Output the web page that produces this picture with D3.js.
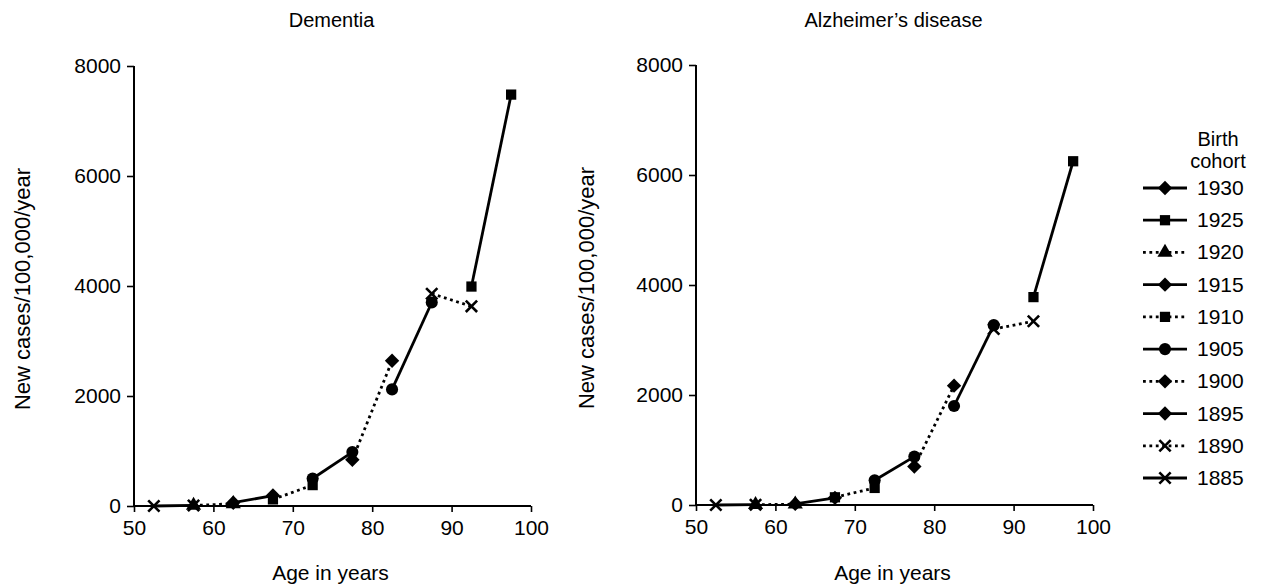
<!DOCTYPE html>
<html>
<head>
<meta charset="utf-8">
<script src="https://cdn.jsdelivr.net/npm/d3@7"></script>
<style>
    body { margin: 0; background: #fff; }
    svg { font-family: "Liberation Sans", Arial, sans-serif; }
</style>
</head>
<body>
<svg id="chart" width="1261" height="585"></svg>
<script>
// legend order, as printed
const cohorts = ['1930', '1925', '1920', '1915', '1910', '1905', '1900', '1895', '1890', '1885']

// each plotted segment: one cohort followed over two 5-year age bands
const segmentCohorts = ['1925', '1920', '1915', '1910', '1905', '1900', '1895', '1890', '1885']
const segmentAges = [
    [52.5, 57.5], [57.5, 62.5], [62.5, 67.5], [67.5, 72.5], [72.5, 77.5],
    [77.5, 82.5], [82.5, 87.5], [87.5, 92.5], [92.5, 97.5]
]
const dementiaValues = [
    [0, 10], [10, 40], [60, 190], [120, 380], [500, 980],
    [840, 2640], [2120, 3700], [3860, 3630], [3990, 7480]
]
const alzheimerValues = [
    [0, 5], [5, 15], [20, 130], [140, 310], [450, 880],
    [700, 2170], [1800, 3270], [3200, 3340], [3780, 6250]
]

const xTicks = [50, 60, 70, 80, 90, 100]
const yTicks = [0, 2000, 4000, 6000, 8000]
const panelTitles = ['Dementia', "Alzheimer\u2019s disease"]

// ---- styles ----
const STROKE = '#000'
const LINE_W = 2.8
const DOTS = '2.8,3.6'
const FONT = 21

const legendStyle = {
    '1930': { dotted: false, sym: 'diamond' },
    '1925': { dotted: false, sym: 'square' },
    '1920': { dotted: true, sym: 'triangle' },
    '1915': { dotted: false, sym: 'diamond' },
    '1910': { dotted: true, sym: 'square' },
    '1905': { dotted: false, sym: 'circle' },
    '1900': { dotted: true, sym: 'diamond' },
    '1895': { dotted: false, sym: 'diamond' },
    '1890': { dotted: true, sym: 'cross' },
    '1885': { dotted: false, sym: 'cross' }
}
// markers as they come out in the plotted panels
const plotSymbol = {
    '1925': 'cross', '1920': 'triangle', '1915': 'diamond', '1910': 'square',
    '1905': 'circle', '1900': 'diamond', '1895': 'circle', '1890': 'cross', '1885': 'square'
}

// square turned on its corner, like the printed diamonds
const diamondPath = r => {
    const p = d3.path()
    p.moveTo(0, -r)
    p.lineTo(r, 0)
    p.lineTo(0, r)
    p.lineTo(-r, 0)
    p.closePath()
    return p.toString()
}

const symbolPath = {
    diamond: diamondPath(7.2),
    square: d3.symbol(d3.symbolSquare, 105)(),
    circle: d3.symbol(d3.symbolCircle, 115)(),
    triangle: d3.symbol(d3.symbolTriangle, 100)(),
    cross: d3.symbol(d3.symbolTimes, 85)()
}

const drawSymbol = (g, name, x, y) => {
    const p = g.append('path')
        .attr('d', symbolPath[name])
        .attr('transform', `translate(${x},${y})`)
    if (name === 'cross') {
        p.attr('fill', 'none').attr('stroke', STROKE).attr('stroke-width', 2.6)
    } else {
        p.attr('fill', STROKE)
    }
}

const svg = d3.select('#chart')

const W = 397
const H = 440
const panels = [
    { left: 134, top: 66, values: dementiaValues, yLabelX: 30 },
    { left: 696, top: 65, values: alzheimerValues, yLabelX: 594 }
]

panels.forEach((pn, i) => {
    const x = d3.scaleLinear().domain([50, 100]).range([0, W])
    const y = d3.scaleLinear().domain([0, 8000]).range([H, 0])

    const g = svg.append('g').attr('transform', `translate(${pn.left},${pn.top})`)

    // title
    svg.append('text')
        .attr('x', pn.left + W / 2 - 1)
        .attr('y', 27)
        .attr('text-anchor', 'middle')
        .attr('font-size', 20)
        .text(panelTitles[i])

    // axes
    const xAxis = g.append('g')
        .attr('transform', `translate(0,${H})`)
        .call(d3.axisBottom(x).tickValues(xTicks).tickSize(6).tickPadding(8))
    const yAxis = g.append('g')
        .call(d3.axisLeft(y).tickValues(yTicks).tickSize(7).tickPadding(6).tickFormat(d3.format('d')))

    ;[xAxis, yAxis].forEach(a => {
        a.select('.domain').attr('stroke', STROKE).attr('stroke-width', 2)
        a.selectAll('.tick line').attr('stroke', STROKE).attr('stroke-width', 1.6)
        a.selectAll('.tick text')
            .attr('font-size', FONT)
            .attr('font-family', '"Liberation Sans", Arial, sans-serif')
            .attr('fill', '#000')
    })
    // no end caps on the domain
    xAxis.select('.domain').attr('d', `M0,0H${W}`)
    yAxis.select('.domain').attr('d', `M0,${H}V0`)

    // axis titles
    svg.append('text')
        .attr('x', pn.left + W / 2 - 2)
        .attr('y', 580)
        .attr('text-anchor', 'middle')
        .attr('font-size', FONT)
        .text('Age in years')

    svg.append('text')
        .attr('transform', `translate(${pn.yLabelX},${pn.top + H / 2 + 3}) rotate(-90)`)
        .attr('text-anchor', 'middle')
        .attr('font-size', 22)
        .text('New cases/100,000/year')

    // lines
    const line = d3.line().x(d => x(d[0])).y(d => y(d[1]))
    segmentCohorts.forEach((c, k) => {
        const pts = segmentAges[k].map((a, j) => [a, pn.values[k][j]])
        g.append('path')
            .attr('d', line(pts))
            .attr('fill', 'none')
            .attr('stroke', STROKE)
            .attr('stroke-width', LINE_W)
            .attr('stroke-dasharray', legendStyle[c].dotted ? DOTS : null)
    })
    // markers on top
    segmentCohorts.forEach((c, k) => {
        segmentAges[k].forEach((a, j) => {
            drawSymbol(g, plotSymbol[c], x(a), y(pn.values[k][j]))
        })
    })
})

// legend
const lg = svg.append('g')
lg.append('text').attr('x', 1218).attr('y', 146).attr('text-anchor', 'middle')
    .attr('font-size', 20).text('Birth')
lg.append('text').attr('x', 1218).attr('y', 168).attr('text-anchor', 'middle')
    .attr('font-size', 20).text('cohort')

const ly = d3.scalePoint().domain(cohorts).range([188, 478])
cohorts.forEach(c => {
    const yy = ly(c)
    const st = legendStyle[c]
    lg.append('line')
        .attr('x1', 1143).attr('x2', 1187)
        .attr('y1', yy).attr('y2', yy)
        .attr('stroke', STROKE)
        .attr('stroke-width', LINE_W)
        .attr('stroke-dasharray', st.dotted ? DOTS : null)
    drawSymbol(lg, st.sym, 1165, yy)
    lg.append('text')
        .attr('x', 1197).attr('y', yy + 7)
        .attr('font-size', FONT)
        .text(c)
})
</script>
</body>
</html>
